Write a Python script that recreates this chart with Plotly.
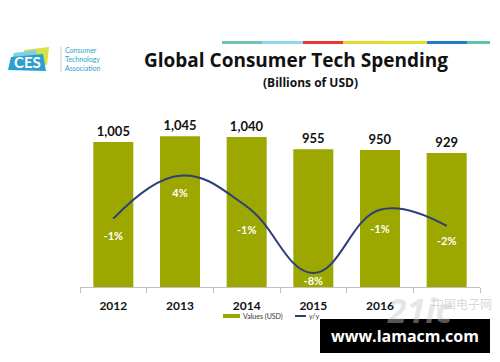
import plotly.graph_objects as go

years = ["2012", "2013", "2014", "2015", "2016", "2017"]
tick_text = ["2012", "2013", "2014", "2015", "2016", ""]
values_usd = [1005, 1045, 1040, 955, 950, 929]
value_labels = ["1,005", "1,045", "1,040", "955", "950", "929"]
yoy = [-1.3, 4.0, 0.2, -8.0, -0.2, -2.2]
yoy_labels = ["-1%", "4%", "-1%", "-8%", "-1%", "-2%"]

OLIVE = "#9CA700"
NAVY = "#2B3F78"

fig = go.Figure()
fig.add_trace(go.Bar(
    x=years, y=values_usd, name="Values (USD)",
    marker=dict(color=OLIVE, line=dict(width=0)),
    text=["<b>" + t + "</b>" for t in value_labels], textposition="outside", cliponaxis=False,
    textfont=dict(family="Lato", size=13, color="#111111"),
))
fig.add_trace(go.Scatter(
    x=years, y=yoy, name="y/y", yaxis="y2", mode="lines+markers+text",
    line=dict(color=NAVY, width=2, shape="spline", smoothing=1.2),
    # invisible markers only used to push the labels below the line
    marker=dict(size=[19, 20, 29, 4, 22, 15], color="rgba(0,0,0,0)",
                line=dict(width=0, color="rgba(0,0,0,0)")),
    text=["<b>" + t + "</b>" for t in yoy_labels], textposition="bottom center",
    textfont=dict(family="Lato", size=11, color="white"), cliponaxis=False,
))

def px(x):
    return (x - 80) / 400
def py(y):
    return (287 - y) / 187

shapes = []
stripe = [(222, 262, "#6CC5B3"), (262, 303, "#8FD6EE"), (303, 343, "#E8363B"),
          (343, 384, "#DEDC2E"), (384, 427, "#DDE02F"), (427, 467, "#1E7CC0"),
          (467, 490, "#5FC3A9")]
for x0, x1, c in stripe:
    shapes.append(dict(type="rect", xref="paper", yref="paper",
                       x0=px(x0), x1=px(x1), y0=py(44), y1=py(41),
                       fillcolor=c, line=dict(width=0), layer="below"))

def quad(pts, color):
    path = "M " + " L ".join(f"{px(a)},{py(b)}" for a, b in pts) + " Z"
    return dict(type="path", xref="paper", yref="paper", path=path,
                fillcolor=color, line=dict(width=0))
shapes.append(quad([(24, 50), (49, 47), (47, 65), (26, 62)], "#D6E04A"))
shapes.append(quad([(14, 53), (36, 50), (40, 70), (9, 69)], "#7FD0E6"))
shapes.append(quad([(11, 57), (43, 54), (46, 71), (8, 70)], "#2A9FD0"))
shapes.append(dict(type="line", xref="paper", yref="paper",
                   x0=px(61), x1=px(61), y0=py(47), y1=py(72),
                   line=dict(color="#CCCCCC", width=1)))
# custom legend
shapes.append(dict(type="rect", xref="paper", yref="paper",
                   x0=px(223), x1=px(240), y0=py(318), y1=py(314),
                   fillcolor=OLIVE, line=dict(width=0)))
shapes.append(dict(type="line", xref="paper", yref="paper",
                   x0=px(295), x1=px(306), y0=py(316), y1=py(316),
                   line=dict(color=NAVY, width=2)))
# watermark box
shapes.append(dict(type="rect", xref="paper", yref="paper",
                   x0=px(320), x1=px(490), y0=py(353), y1=py(319),
                   fillcolor="#000000", line=dict(width=0)))

def ann(text, x, y, size, color, family="Open Sans", xanchor="center"):
    return dict(text=text, x=px(x), y=py(y), xref="paper", yref="paper",
                showarrow=False, xanchor=xanchor, yanchor="middle", align="left",
                font=dict(family=family, size=size, color=color))

annotations = [
    ann("<b>Global Consumer Tech Spending</b>", 296, 60, 19, "#111111"),
    ann("<b>(Billions of USD)</b>", 310, 82, 12, "#111111"),
    ann("<b>CES</b>", 27, 62, 15, "white", family="Lato"),
    ann("Consumer<br>Technology<br>Association", 63, 59, 7, "#2E9FC9", family="Lato", xanchor="left"),
    ann("Values (USD)", 241, 316, 7, "#333333", family="Lato", xanchor="left"),
    ann("y/y", 307, 316, 7, "#333333", family="Lato", xanchor="left"),
    ann("<b><i>21ic</i></b>", 420, 310, 34, "rgba(200,200,200,0.45)"),
    ann("中国电子网", 462, 303, 12, "rgba(190,190,190,0.6)", family="Noto Sans CJK SC"),
    ann("<b>www.lamacm.com</b>", 405, 336, 16, "white"),
]

fig.update_layout(
    width=500, height=362,
    margin=dict(l=80, r=20, t=100, b=75, autoexpand=False),
    paper_bgcolor="white", plot_bgcolor="white",
    bargap=0.4, showlegend=False,
    xaxis=dict(tickmode="array", tickvals=years, ticktext=["<b>" + t + "</b>" for t in tick_text],
               showline=True, linecolor="#BFBFBF", linewidth=1,
               ticks="outside", tickson="boundaries", ticklen=5, tickcolor="#BFBFBF",
               ticklabelstandoff=8,
               tickfont=dict(family="Lato", size=12, color="#111111"),
               showgrid=False, fixedrange=True),
    yaxis=dict(range=[0, 1296], visible=False, showgrid=False),
    yaxis2=dict(range=[-9.73, 13.33], overlaying="y", side="right",
                visible=False, showgrid=False),
    shapes=shapes, annotations=annotations,
)

fig.write_html("out.html", config={"displayModeBar": False},
               post_script="document.body.style.margin='0';document.body.style.overflow='hidden';")
